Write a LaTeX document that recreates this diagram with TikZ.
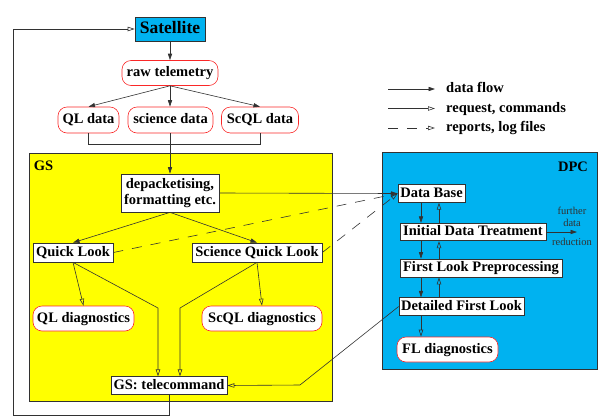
\documentclass[tikz,border=0pt]{standalone}
\usepackage{fontspec}
\setmainfont{Liberation Serif}
\usetikzlibrary{arrows.meta, positioning, calc}
\definecolor{satcyan}{RGB}{0,178,240}
\definecolor{gsyellow}{RGB}{255,255,0}
\definecolor{edgegray}{RGB}{50,50,50}
\definecolor{diagred}{RGB}{250,40,40}
\tikzset{
    procbox/.style={rectangle, draw=edgegray, fill=white, line width=0.7pt, inner sep=2pt, text height=10.5pt, text depth=3pt, font=\fontsize{14.5}{16}\selectfont\bfseries, align=center},
    databox/.style={rectangle, rounded corners=9pt, draw=diagred, fill=white, line width=0.6pt, inner sep=2pt, text height=10.5pt, text depth=3pt, font=\fontsize{14.5}{16}\selectfont\bfseries},
    areabox/.style={rectangle, draw=edgegray, line width=0.7pt, anchor=north west, outer sep=0pt},
    flow/.style={-{Triangle[length=6.5pt, width=4.2pt]}, edgegray, line width=0.6pt},
    request/.style={-{Triangle[open, length=7pt, width=4.4pt]}, edgegray, line width=0.6pt},
    report/.style={request, dash pattern=on 10pt off 9pt},
}

\begin{document}
\begin{tikzpicture}[
    x=1pt, y=-1pt,
    arealabel/.style={font=\fontsize{14.5}{16}\selectfont\bfseries, text height=10.5pt, text depth=3pt},
    legendtext/.style={font=\fontsize{14.5}{16}\selectfont\bfseries, anchor=west, inner sep=0pt, text height=10.5pt, text depth=3pt},
    smalltext/.style={font=\fontsize{10.5}{12}\selectfont, text=edgegray, align=center, inner sep=0pt}
]
\useasboundingbox (0,0) rectangle (598,416);

% ground segment and data processing centre
\node[areabox, fill=gsyellow, minimum width=303pt, minimum height=248pt] (gs-box) at (29,153) {};
\node[arealabel] (gs-label) at (43.5,167) {GS};
\node[areabox, fill=satcyan, minimum width=215pt, minimum height=217pt] (dpc-box) at (382,152) {};
\node[arealabel] (dpc-label) at (573,168) {DPC};

% telemetry chain
\node[procbox, fill=satcyan, minimum width=70pt, minimum height=24pt, font=\fontsize{17.5}{19}\selectfont\bfseries, text height=12.5pt, text depth=3.5pt] (sat) at (170,29) {Satellite};
\node[databox, minimum width=96pt, minimum height=25pt] (raw) at (170,73) {raw telemetry};
\node[databox, minimum width=61pt, minimum height=26pt] (ql-data) at (88.5,120) {QL data};
\node[databox, minimum width=85pt, minimum height=26pt] (sci-data) at (170.5,120) {science data};
\node[databox, minimum width=77pt, minimum height=26pt] (scql-data) at (260,120) {ScQL data};

\node[procbox, minimum width=98pt, minimum height=38pt, text height=, text depth=] (depack) at (170,193) {depacketising,\\formatting etc.};
\node[procbox, minimum width=80pt, minimum height=19pt] (ql) at (73,252.5) {Quick Look};
\node[procbox, minimum width=130pt, minimum height=19pt] (sql) at (257,252.5) {Science Quick Look};
\node[databox, minimum width=101pt, minimum height=25pt] (ql-diag) at (83.5,318.5) {QL diagnostics};
\node[databox, minimum width=120pt, minimum height=25pt] (scql-diag) at (262,318.5) {ScQL diagnostics};
\node[procbox, minimum width=116pt, minimum height=17pt] (tele) at (169,385.5) {GS: telecommand};

% DPC chain
\node[procbox, minimum width=67pt, minimum height=17pt] (db) at (431.5,193.5) {Data Base};
\node[procbox, minimum width=146pt, minimum height=16pt] (idt) at (473,232) {Initial Data Treatment};
\node[procbox, minimum width=162pt, minimum height=18pt] (flp) at (481,268) {First Look Preprocessing};
\node[procbox, minimum width=125pt, minimum height=17pt] (dfl) at (461.5,306.5) {Detailed First Look};
\node[databox, minimum width=101pt, minimum height=25pt] (fl-diag) at (447.5,349.5) {FL diagnostics};

\node[smalltext] (further-text) at (572,217) {further\\data};
\node[smalltext] (reduction-text) at (572,242) {reduction};
\coordinate (further-end) at (577,232);

% legend
\coordinate (flow-a) at (388,89);   \coordinate (flow-b) at (435,89);
\coordinate (req-a) at (388,108.5); \coordinate (req-b) at (435,108.5);
\coordinate (rep-a) at (388,128);   \coordinate (rep-b) at (435,128);
\draw[flow] (flow-a) -- (flow-b);
\draw[request] (req-a) -- (req-b);
\draw[report] (rep-a) -- (rep-b);
\node[legendtext] (flow-text) at (446,89) {data flow};
\node[legendtext] (req-text) at (446,108.5) {request, commands};
\node[legendtext] (rep-text) at (446,128) {reports, log files};

% connectors
\coordinate (merge) at (170,144);
\coordinate (ql-bend) at (158,308);
\coordinate (sql-bend) at (180,308);
\coordinate (dfl-bend) at (300,385);
\coordinate (loop-corner) at (13,415);
\coordinate (down-x) at (421,0);
\coordinate (up-x) at (439,0);

\draw[flow] (sat) -- (raw);
\draw[flow] (raw.south) -- (ql-data.north);
\draw[flow] (raw.south) -- (sci-data.north -| raw.south);
\draw[flow] (raw.south) -- (scql-data.north);
\draw[edgegray, line width=0.6pt] (ql-data.south) |- (merge);
\draw[edgegray, line width=0.6pt] (scql-data.south) |- (merge);
\draw[edgegray, line width=0.6pt] (sci-data.south -| merge) -- (merge);
\draw[flow] (merge) -- (depack.north);

\draw[flow] (depack.south) -- (ql.north);
\draw[flow] (depack.south) -- (sql.north);
\draw[request] (ql.south) -- (ql-diag.north);
\draw[request] (ql.south) -- (ql-bend) -- (ql-bend |- tele.north);
\draw[request] (sql.south) -- (scql-diag.north);
\draw[request] (sql.south) -- (sql-bend) -- (sql-bend |- tele.north);
\draw[request] (tele.south) |- (loop-corner) |- (sat.west);

\draw[flow] (depack.east) -- (db.west);
\draw[report] (ql.east) -- (db.west);
\draw[report] (sql.east) -- (db.west);

\draw[flow] (db.south -| down-x) -- (idt.north -| down-x);
\draw[flow] (idt.south -| down-x) -- (flp.north -| down-x);
\draw[flow] (flp.south -| down-x) -- (dfl.north -| down-x);
\draw[request] (idt.north -| up-x) -- (db.south -| up-x);
\draw[request] (flp.north -| up-x) -- (idt.south -| up-x);
\draw[request] (dfl.north -| up-x) -- (flp.south -| up-x);
\draw[request] (dfl.south -| down-x) -- (fl-diag.north -| down-x);
\draw[flow] (idt.east) -- (further-end);
\draw[request] (dfl.west) -- (dfl-bend) -- (tele.east);

\end{tikzpicture}
\end{document}
